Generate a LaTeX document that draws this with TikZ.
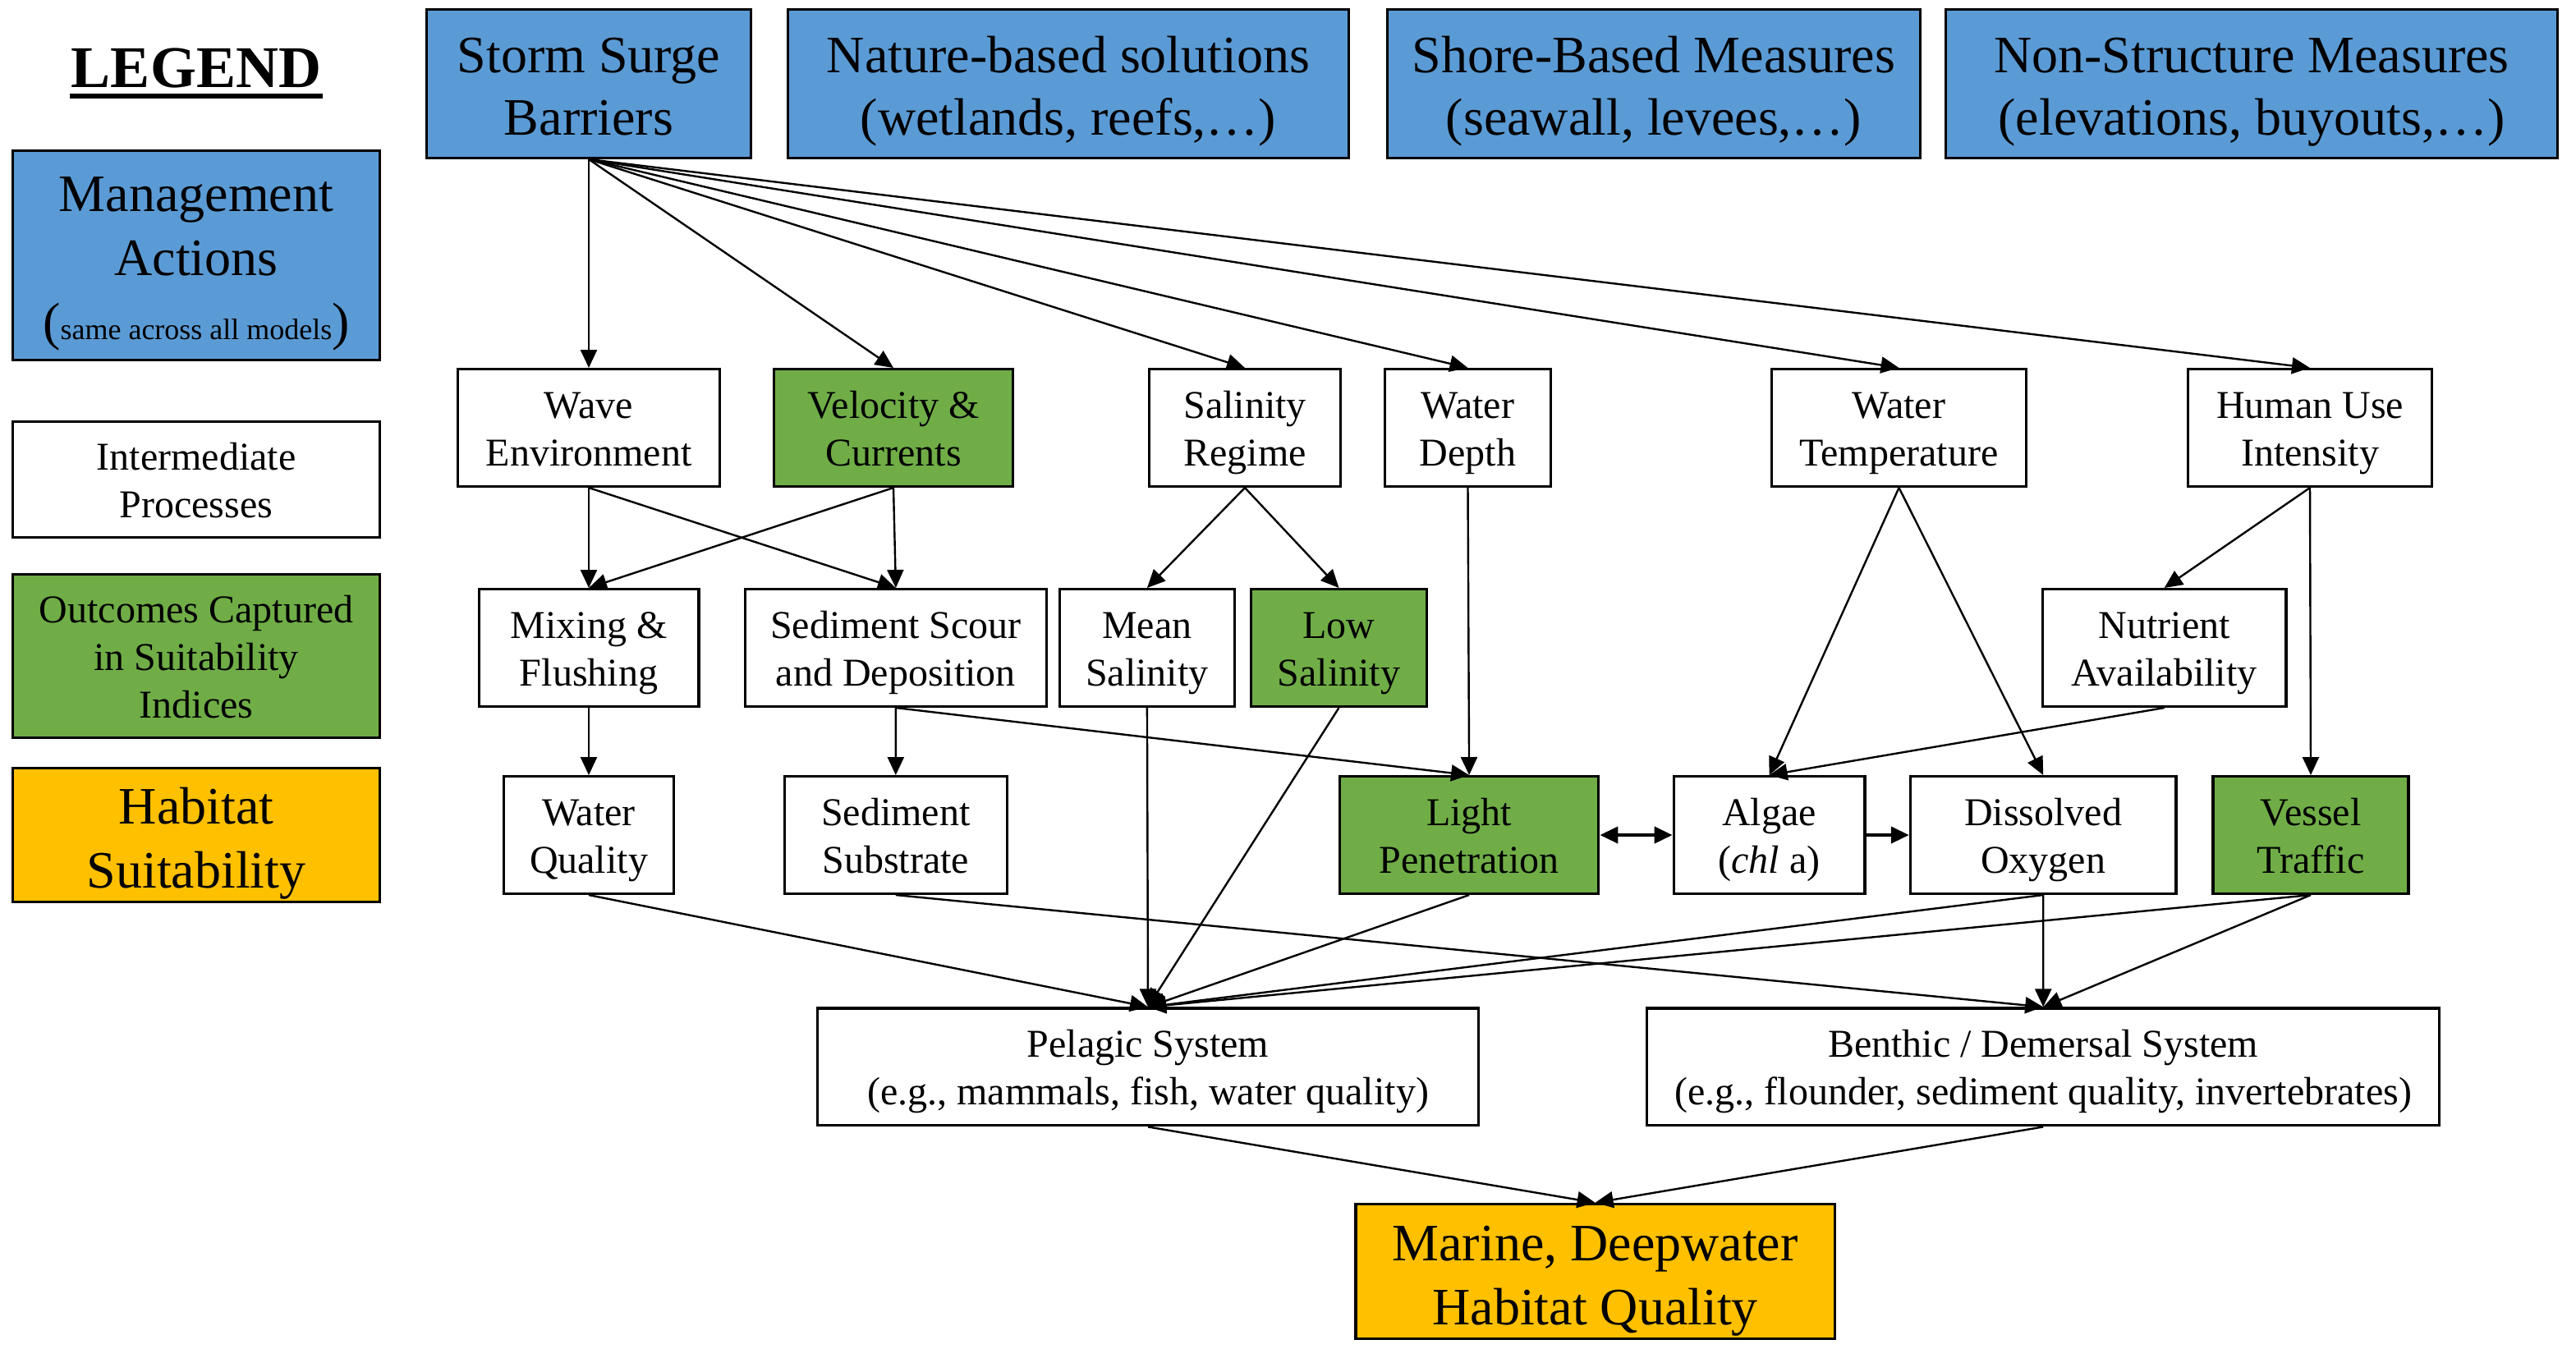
\documentclass[tikz,border=0pt]{standalone}
\usepackage{fontspec}
\setmainfont{Liberation Serif}
\usepackage{tikz}
\usetikzlibrary{positioning,arrows.meta}
\definecolor{actblue}{HTML}{5B9BD5}
\definecolor{outgreen}{HTML}{70AD47}
\definecolor{habgold}{HTML}{FFC000}

\begin{document}
\begin{tikzpicture}[x=1pt, y=1pt,
    every node/.style={draw, line width=0.8pt, align=center, inner sep=2pt},
    action/.style={fill=actblue, minimum height=45.2pt, font=\fontsize{16}{19}\selectfont,
        text height=34.9pt, text depth=3.5pt},
    process/.style={minimum height=35.7pt, font=\fontsize{12}{14.5}\selectfont,
        text height=25.8pt, text depth=2.6pt},
    outcome/.style={process, fill=outgreen},
    habitat/.style={fill=habgold, inner ysep=0.5pt, font=\fontsize{16}{19.5}\selectfont,
        text height=35.9pt, text depth=3.5pt},
    arr/.style={-{Triangle[length=5.5pt,width=5pt]}, line width=0.6pt},
    thickarr/.style={-{Triangle[length=5.5pt,width=5pt]}, line width=1pt},
    dblarr/.style={{Triangle[length=5.5pt,width=5pt]}-{Triangle[length=5.5pt,width=5pt]}, line width=1pt}]
    \useasboundingbox (0,0) rectangle (784.25,-410.5);

    % legend
    \node[draw=none, inner sep=0pt, anchor=base, font=\fontsize{18}{21}\selectfont\bfseries] (lgd) at (59.75,-26.5) {LEGEND};
    \draw[line width=1.5pt] ([yshift=-2.75pt]lgd.base west) -- ([yshift=-2.75pt]lgd.base east);
    \node[action, minimum width=111.7pt, minimum height=63.7pt, font=\fontsize{16}{19.5}\selectfont,
        text height=54.8pt] (lgact) at (59.75,-77.75)
        {Management\\Actions\\({\fontsize{9}{10}\selectfont same across all models})};
    \node[process, minimum width=111.7pt, minimum height=35.2pt, below=18pt of lgact] (lgproc) {Intermediate\\Processes};
    \node[outcome, minimum width=111.7pt, minimum height=49.7pt, text height=40.3pt, below=10.5pt of lgproc] (lgout) {Outcomes Captured\\in Suitability\\Indices};
    \node[habitat, minimum width=111.7pt, minimum height=40.7pt, below=8.5pt of lgout] (lghab) {Habitat\\Suitability};

    % management actions
    \node[action, minimum width=98.7pt] (ssb) at (179.25,-25.5) {Storm Surge\\Barriers};
    \node[action, minimum width=170.7pt, right=10.5pt of ssb] (nbs) {Nature-based solutions\\(wetlands, reefs,…)};
    \node[action, minimum width=162.2pt, right=11pt of nbs] (sbm) {Shore-Based Measures\\(seawall, levees,…)};
    \node[action, minimum width=186.2pt, right=7pt of sbm] (nsm) {Non-Structure Measures\\(elevations, buyouts,…)};

    % first processes
    \node[process, minimum width=79.7pt, below=63.5pt of ssb] (wave) {Wave\\Environment};
    \node[outcome, minimum width=72.7pt, right=15.75pt of wave] (vel) {Velocity \&\\Currents};
    \node[process, minimum width=58.2pt, right=40.75pt of vel] (salreg) {Salinity\\Regime};
    \node[process, minimum width=50.45pt, right=12.75pt of salreg] (depth) {Water\\Depth};
    \node[process, minimum width=77.45pt, right=66.5pt of depth] (temp) {Water\\Temperature};
    \node[process, minimum width=74.2pt, right=48.5pt of temp] (human) {Human Use\\Intensity};

    % second processes
    \node[process, minimum width=66.95pt, below=30.5pt of wave] (mix) {Mixing \&\\Flushing};
    \node[process, minimum width=91.8pt, right=13.3pt of mix] (scour) {Sediment Scour\\and Deposition};
    \node[process, minimum width=53.1pt, right=3.25pt of scour] (meansal) {Mean\\Salinity};
    \node[outcome, minimum width=53.5pt, right=4.3pt of meansal] (lowsal) {Low\\Salinity};
    \node[process, minimum width=74.1pt, right=186.7pt of lowsal] (nutr) {Nutrient\\Availability};

    % third processes
    \node[process, minimum width=51.6pt, below=20.5pt of mix] (wq) {Water\\Quality};
    \node[process, minimum width=67.8pt, right=32.95pt of wq] (substr) {Sediment\\Substrate};
    \node[outcome, minimum width=78.85pt, right=100.45pt of substr] (light) {Light\\Penetration};
    \node[process, minimum width=58.2pt, right=22.05pt of light] (algae) {Algae\\(\textit{chl} a)};
    \node[process, minimum width=80.9pt, right=13.05pt of algae] (oxy) {Dissolved\\Oxygen};
    \node[outcome, minimum width=59.5pt, right=10.45pt of oxy] (vessel) {Vessel\\Traffic};

    % systems and habitat
    \node[process, minimum width=201.2pt, below right=34.1pt and 43.05pt of wq] (pel) {Pelagic System\\(e.g., mammals, fish, water quality)};
    \node[process, minimum width=241.2pt, right=50.55pt of pel] (ben) {Benthic / Demersal System\\(e.g., flounder, sediment quality, invertebrates)};
    \node[habitat, minimum width=145.8pt, minimum height=41.1pt] (mdhq) at (485.65,-387.15) {Marine, Deepwater\\Habitat Quality};

    \draw[arr] (ssb.south) -- (wave.north);
    \draw[arr] (ssb.south) -- (vel.north);
    \draw[arr] (ssb.south) -- (salreg.north);
    \draw[arr] (ssb.south) -- (depth.north);
    \draw[arr] (ssb.south) -- (temp.north);
    \draw[arr] (ssb.south) -- (human.north);

    \draw[arr] (wave.south) -- (mix.north);
    \draw[arr] (wave.south) -- (scour.north);
    \draw[arr] (vel.south) -- (mix.north);
    \draw[arr] (vel.south) -- (scour.north);
    \draw[arr] (salreg.south) -- (meansal.north);
    \draw[arr] (salreg.south) -- (lowsal.north);
    \draw[arr] (depth.south) -- (light.north);
    \draw[arr] (temp.south) -- (algae.north);
    \draw[arr] (temp.south) -- (oxy.north);
    \draw[arr] (human.south) -- (nutr.north);
    \draw[arr] (human.south) -- (vessel.north);

    \draw[arr] (mix.south) -- (wq.north);
    \draw[arr] (scour.south) -- (substr.north);
    \draw[arr] (scour.south) -- (light.north);
    \draw[arr] (nutr.south) -- (algae.north);
    \draw[dblarr] (light.east) -- (algae.west);
    \draw[thickarr] (algae.east) -- (oxy.west);

    \draw[arr] (wq.south) -- (pel.north);
    \draw[arr] (meansal.south) -- (pel.north);
    \draw[arr] (lowsal.south) -- (pel.north);
    \draw[arr] (light.south) -- (pel.north);
    \draw[arr] (oxy.south) -- (pel.north);
    \draw[arr] (vessel.south) -- (pel.north);
    \draw[arr] (substr.south) -- (ben.north);
    \draw[arr] (oxy.south) -- (ben.north);
    \draw[arr] (vessel.south) -- (ben.north);

    \draw[arr] (pel.south) -- (mdhq.north);
    \draw[arr] (ben.south) -- (mdhq.north);
  \end{tikzpicture}
\end{document}
